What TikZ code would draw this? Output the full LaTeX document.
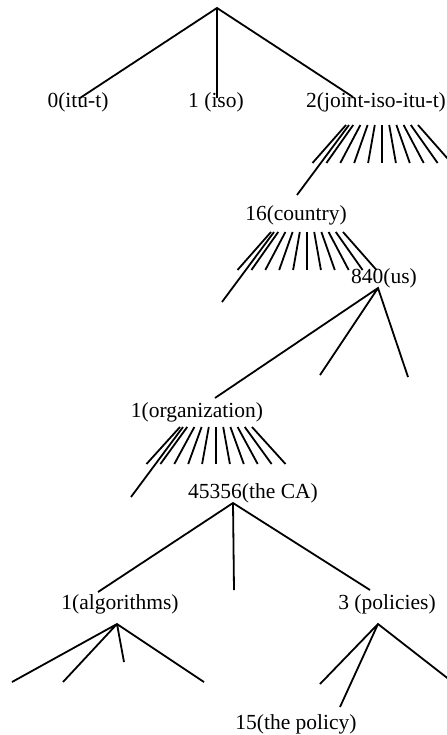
\documentclass[tikz,border=0pt]{standalone}
\usepackage{fontspec}
\setmainfont{Liberation Serif}
\begin{document}
\begin{tikzpicture}[x=1bp,y=-1bp,
  edge/.style={line width=1.8bp},
  lbl/.style={anchor=base, inner sep=0pt, font=\fontsize{21.5bp}{24bp}\selectfont}]
\useasboundingbox (0,0) rectangle (447,735);
% labels
\node[lbl] (itut)   at (78,107.5)  {0(itu-t)};
\node[lbl] (iso)    at (216,107.5) {1 (iso)};
\node[lbl] (joint)  at (376,107.5) {2(joint-iso-itu-t)};
\node[lbl] (country) at (296,220) {16(country)};
\node[lbl] (us)     at (384,283.5) {840(us)};
\node[lbl] (org)    at (197,417.5) {1(organization)};
\node[lbl] (ca)     at (253,498.5) {45356(the CA)};
\node[lbl] (alg)    at (120,609.5) {1(algorithms)};
\node[lbl] (pol)    at (387,609.5) {3 (policies)};
\node[lbl] (policy) at (296,729.5) {15(the policy)};
% root
\coordinate (root) at (217,8);
\coordinate (r1) at (80,98);
\coordinate (r2) at (217,98);
\coordinate (r3) at (353,97);
\draw[edge] (r1) -- (root) -- (r3) (root) -- (r2);
% fans: vertical x, top y, bottom y
\foreach \v/\t/\b in {382/125/163, 307/232/270, 216/427/464}{
  \foreach \i in {-5,...,5}
    \draw[edge] ({\v+7.2*\i},\t) -- ({\v+13.9*\i},\b);
  \draw[edge] ({\v-33},\t) -- ({\v-85},{\t+70});
}
% 840(us) children
\coordinate (usa) at (378,288);
\coordinate (us1) at (215,398);
\coordinate (us2) at (320,375);
\coordinate (us3) at (408,377);
\draw[edge] (us1) -- (usa) -- (us3) (usa) -- (us2);
% 45356 children
\coordinate (caa) at (233,503);
\coordinate (ca1) at (98,592);
\coordinate (ca2) at (234,590);
\coordinate (ca3) at (370,590);
\draw[edge] (ca1) -- (caa) -- (ca3) (caa) -- (ca2);
% algorithms children
\coordinate (ala) at (117,624);
\coordinate (al1) at (12,682);
\coordinate (al2) at (63,682);
\coordinate (al3) at (124,662);
\coordinate (al4) at (204,682);
\draw[edge] (al1) -- (ala) -- (al4) (ala) -- (al2) (ala) -- (al3);
% policies children
\coordinate (poa) at (378,624);
\coordinate (po1) at (320,684);
\coordinate (po2) at (340,707);
\coordinate (po3) at (455,684);
\draw[edge] (po1) -- (poa) -- (po3) (poa) -- (po2);
\end{tikzpicture}
\end{document}
